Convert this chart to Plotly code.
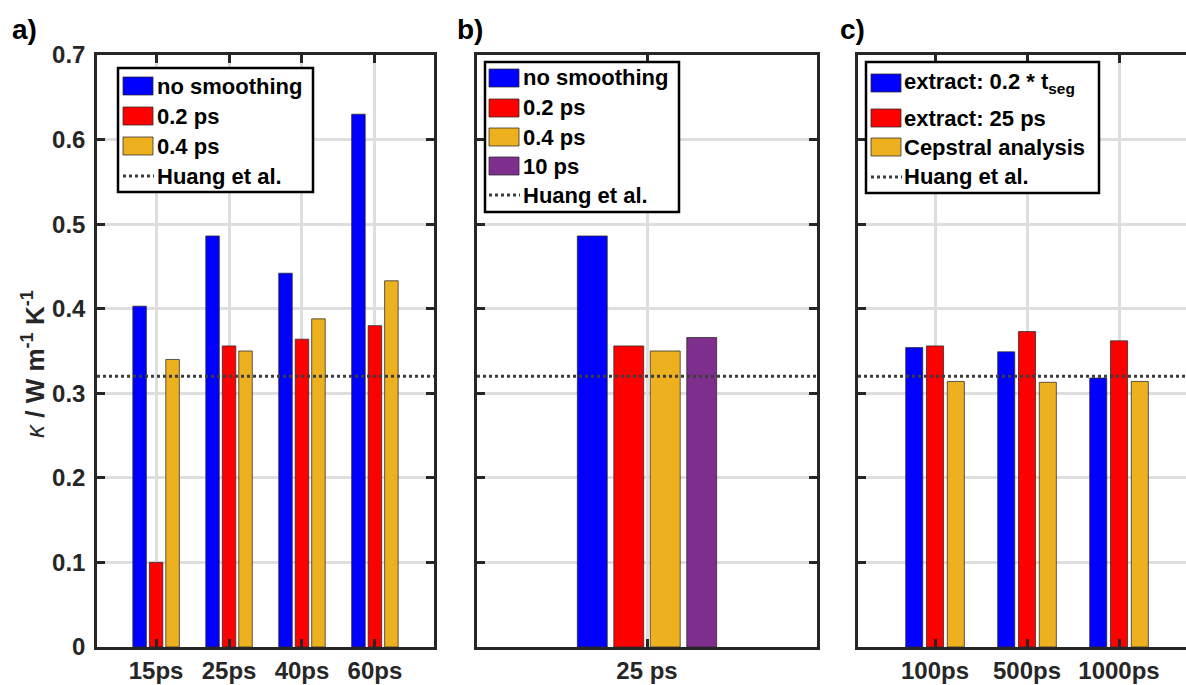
import plotly.graph_objects as go

# ---------------- data ----------------
cats_a = ["15ps", "25ps", "40ps", "60ps"]
a_no_smoothing = [0.403, 0.486, 0.442, 0.630]
a_02ps = [0.100, 0.356, 0.364, 0.380]
a_04ps = [0.340, 0.350, 0.388, 0.433]

cats_b = ["25 ps"]
b_no_smoothing = [0.486]
b_02ps = [0.356]
b_04ps = [0.350]
b_10ps = [0.366]

cats_c = ["100ps", "500ps", "1000ps"]
c_extract_02t = [0.354, 0.349, 0.318]
c_extract_25ps = [0.356, 0.373, 0.362]
c_cepstral = [0.314, 0.313, 0.314]

huang = 0.32

legend_a = ["no smoothing", "0.2 ps", "0.4 ps", "Huang et al."]
legend_b = ["no smoothing", "0.2 ps", "0.4 ps", "10 ps", "Huang et al."]
legend_c = ["extract: 0.2 * t<sub>seg</sub>", "extract: 25 ps", "Cepstral analysis", "Huang et al."]

# ---------------- style ----------------
BLUE, RED, YEL, PUR = "#0000FF", "#FF0000", "#EDB120", "#7E2F8E"
AX = "#262626"
GRID = "#dedede"
EDGE = "rgba(40,40,40,0.75)"
HUANG_COL = "#3c3c3c"
FONT = "Liberation Sans"

W, H = 1186, 685
ML, MR, MT, MB = 97, 0, 55, 38
PW, PH = W - ML - MR, H - MT - MB


def px2x(px):
    return (px - ML) / PW


def px2y(py):
    return (H - MB - py) / PH


fig = go.Figure()


def add_bar(x, y, name, color, xa, ya):
    fig.add_trace(go.Bar(
        x=x, y=y, name=name, xaxis=xa, yaxis=ya, showlegend=False,
        marker=dict(color=color, line=dict(color=EDGE, width=1)),
    ))


add_bar(cats_a, a_no_smoothing, legend_a[0], BLUE, "x", "y")
add_bar(cats_a, a_02ps, legend_a[1], RED, "x", "y")
add_bar(cats_a, a_04ps, legend_a[2], YEL, "x", "y")

add_bar(cats_b, b_no_smoothing, legend_b[0], BLUE, "x2", "y2")
add_bar(cats_b, b_02ps, legend_b[1], RED, "x2", "y2")
add_bar(cats_b, b_04ps, legend_b[2], YEL, "x2", "y2")
add_bar(cats_b, b_10ps, legend_b[3], PUR, "x2", "y2")

add_bar(cats_c, c_extract_02t, "extract: 0.2 * t_seg", BLUE, "x3", "y3")
add_bar(cats_c, c_extract_25ps, legend_c[1], RED, "x3", "y3")
add_bar(cats_c, c_cepstral, legend_c[2], YEL, "x3", "y3")

# Huang et al. reference line in every panel
for xr, yr in [("x", "y"), ("x2", "y2"), ("x3", "y3")]:
    fig.add_shape(
        type="line", xref=f"{xr} domain", yref=yr, x0=0, x1=1, y0=huang, y1=huang,
        line=dict(color=HUANG_COL, width=3, dash="dot"),
    )


# ---------------- legends (drawn as boxes) ----------------
def draw_legend(box, rect_x, text_x, rows, labels, colors):
    x0, y0, x1, y1 = box
    fig.add_shape(type="rect", xref="paper", yref="paper",
                  x0=px2x(x0), x1=px2x(x1), y0=px2y(y0), y1=px2y(y1),
                  fillcolor="white", line=dict(color="black", width=2.5))
    for lab, col, yc in zip(labels, colors, rows):
        if col is None:
            fig.add_shape(type="line", xref="paper", yref="paper",
                          x0=px2x(rect_x), x1=px2x(rect_x + 31),
                          y0=px2y(yc), y1=px2y(yc),
                          line=dict(color=HUANG_COL, width=3, dash="dot"))
        else:
            fig.add_shape(type="rect", xref="paper", yref="paper",
                          x0=px2x(rect_x), x1=px2x(rect_x + 30),
                          y0=px2y(yc - 9), y1=px2y(yc + 9),
                          fillcolor=col, line=dict(color=EDGE, width=1))
        fig.add_annotation(text=f"<b>{lab}</b>", xref="paper", yref="paper",
                           x=px2x(text_x), y=px2y(yc), xanchor="left", yanchor="middle",
                           showarrow=False,
                           font=dict(family=FONT, size=22, color="black"))


draw_legend((118, 68, 313, 192), 123, 155, [86, 116, 146, 176],
            legend_a, [BLUE, RED, YEL, None])
draw_legend((485, 62, 679, 212), 489, 521, [78, 108, 137, 166, 195],
            legend_b, [BLUE, RED, YEL, PUR, None])
draw_legend((866, 62, 1099, 193), 871, 902, [83, 118, 147, 177],
            legend_c, [BLUE, RED, YEL, None])

tickfont = dict(family=FONT, size=24, color=AX, weight="bold")


def xaxis(domain, rng, anchor):
    return dict(domain=domain, range=rng, anchor=anchor, type="category",
                showline=True, linecolor=AX, linewidth=2.5, mirror="ticks",
                ticks="inside", ticklen=8, tickwidth=2.5, tickcolor=AX,
                showgrid=True, gridcolor=GRID, gridwidth=2.5,
                tickfont=tickfont, zeroline=False, fixedrange=True)


def yaxis(anchor, labels, mirror):
    return dict(anchor=anchor, range=[0, 0.7], dtick=0.1, tick0=0,
                showline=True, linecolor=AX, linewidth=2.5, mirror=mirror,
                ticks="inside", ticklen=8, tickwidth=2.5, tickcolor=AX,
                showgrid=True, gridcolor=GRID, gridwidth=2.5,
                showticklabels=labels, tickfont=tickfont, zeroline=False,
                ticklabelstandoff=4, fixedrange=True)


fig.update_layout(
    width=W, height=H,
    margin=dict(l=ML, r=MR, t=MT, b=MB, pad=0),
    paper_bgcolor="white", plot_bgcolor="white",
    barmode="group", bargap=0.322, bargroupgap=0.18,
    font=dict(family=FONT, color=AX),
    xaxis=xaxis([0, px2x(434)], [-0.81, 3.81], "y"),
    xaxis2=xaxis([px2x(477), px2x(817)], [-0.79, 0.79], "y2"),
    xaxis3=xaxis([px2x(858), 1.0], [-0.837, 2.728], "y3"),
    yaxis=yaxis("x", True, "ticks"),
    yaxis2=yaxis("x2", False, "ticks"),
    yaxis3=yaxis("x3", False, False),
    showlegend=False,
)

# y-axis title
fig.add_annotation(text="<i>κ</i><b> / W m<sup>-1</sup> K<sup>-1</sup></b>",
                   x=px2x(33), y=px2y(364), xref="paper", yref="paper",
                   xanchor="center", yanchor="middle", textangle=-90, showarrow=False,
                   font=dict(family=FONT, size=26, color=AX))

for txt, xpx in [("a)", 10), ("b)", 455), ("c)", 838)]:
    fig.add_annotation(text=f"<b>{txt}</b>", x=px2x(xpx), y=px2y(30),
                       xref="paper", yref="paper",
                       xanchor="left", yanchor="middle", showarrow=False,
                       font=dict(family=FONT, size=28, color="black"))

fig.write_html("out.html", config={"displayModeBar": False},
               post_script="document.body.style.margin='0';")
